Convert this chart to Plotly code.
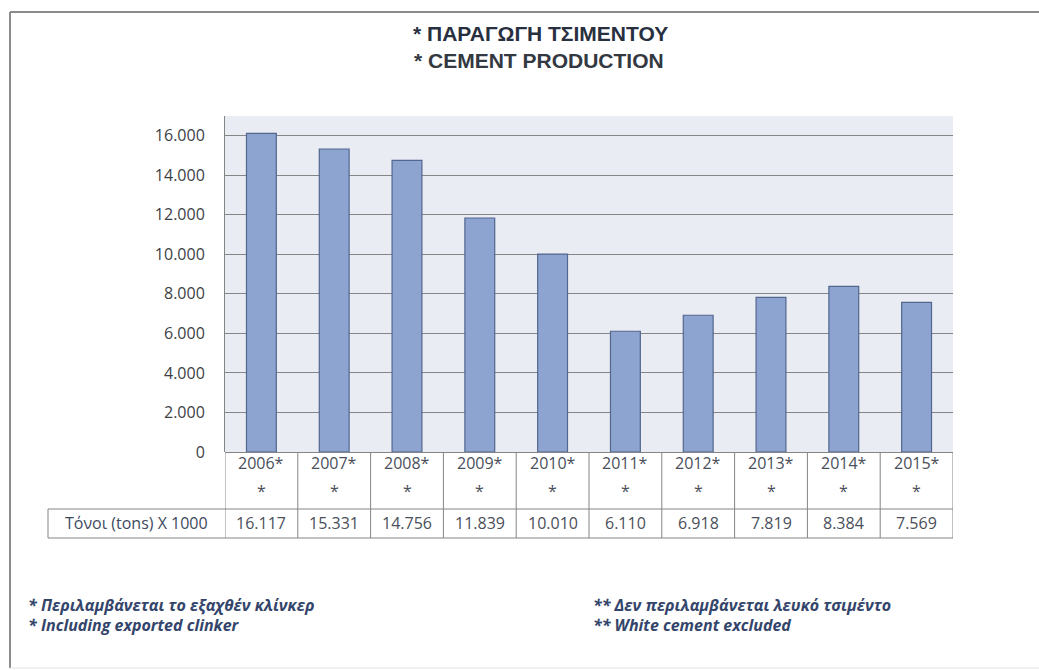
import plotly.graph_objects as go

# Cement production, thousand tons
years = ["2006", "2007", "2008", "2009", "2010", "2011", "2012", "2013", "2014", "2015"]
production = [16117, 15331, 14756, 11839, 10010, 6110, 6918, 7819, 8384, 7569]
row_label = "Τόνοι (tons) X 1000"
y_ticks = [0, 2000, 4000, 6000, 8000, 10000, 12000, 14000, 16000]

title_lines = ["* ΠΑΡΑΓΩΓΗ ΤΣΙΜΕΝΤΟΥ", "* CEMENT PRODUCTION"]
notes_left = ["* Περιλαμβάνεται το εξαχθέν κλίνκερ", "* Including exported clinker"]
notes_right = ["** Δεν περιλαμβάνεται λευκό τσιμέντο", "** White cement excluded"]

W, H = 1039, 670
L, R, T, B = 225, 953, 116, 452  # plot area in pixels


def px(x):
    return (x - L) / (R - L)


def py(y):
    return (B - y) / (B - T)


def fmt(v):
    return f"{v:,}".replace(",", ".")


FONT = "Open Sans"
GRID = "#858585"

fig = go.Figure(
    go.Bar(
        x=years,
        y=production,
        width=0.41,
        marker=dict(color="#8DA4D0", line=dict(color="#52668E", width=1.2)),
        hoverinfo="x+y",
    )
)

shapes = []
annotations = []

# outer frame
shapes.append(dict(type="line", xref="paper", yref="paper", x0=px(10), x1=px(W + 5),
                   y0=py(12), y1=py(12), line=dict(color="#8C8C8C", width=2)))
shapes.append(dict(type="line", xref="paper", yref="paper", x0=px(10), x1=px(10),
                   y0=py(12), y1=py(668), line=dict(color="#8C8C8C", width=2)))
shapes.append(dict(type="line", xref="paper", yref="paper", x0=px(10), x1=px(W + 5),
                   y0=py(668), y1=py(668), line=dict(color="#E2E2E2", width=1)))

# data table below the axis
row_mid, row_bot = 509, 538
n = len(years)
for i in range(n + 1):
    shapes.append(dict(type="line", xref="x", yref="paper", x0=i - 0.5, x1=i - 0.5,
                       y0=py(B), y1=py(row_bot), line=dict(color=GRID, width=1)))
for yy in (row_mid, row_bot):
    shapes.append(dict(type="line", xref="paper", yref="paper", x0=px(48), x1=1,
                       y0=py(yy), y1=py(yy), line=dict(color=GRID, width=1)))
shapes.append(dict(type="line", xref="paper", yref="paper", x0=px(48), x1=px(48),
                   y0=py(row_mid), y1=py(row_bot), line=dict(color=GRID, width=1)))

cell_font = dict(family=FONT, size=16, color="#4A4F5A")
for i, (yr, v) in enumerate(zip(years, production)):
    annotations.append(dict(x=i, xref="x", y=py(463), yref="paper", text=yr + "*",
                            showarrow=False, font=cell_font, xanchor="center", yanchor="middle"))
    annotations.append(dict(x=i, xref="x", y=py(491), yref="paper", text="*",
                            showarrow=False, font=cell_font, xanchor="center", yanchor="middle"))
    annotations.append(dict(x=i, xref="x", y=py(523), yref="paper", text=fmt(v),
                            showarrow=False, font=cell_font, xanchor="center", yanchor="middle"))
annotations.append(dict(x=px(136), xref="paper", y=py(523), yref="paper", text=row_label,
                        showarrow=False, font=dict(family=FONT, size=16, color="#3E4A60"),
                        xanchor="center", yanchor="middle"))

# title
title_font = dict(family="Liberation Sans", size=21, color="#283040")
annotations.append(dict(x=px(540), xref="paper", y=py(33), yref="paper", text="<b>" + title_lines[0] + "</b>",
                        showarrow=False, font=title_font, xanchor="center", yanchor="middle"))
annotations.append(dict(x=px(539), xref="paper", y=py(61), yref="paper", text="<b>" + title_lines[1] + "</b>",
                        showarrow=False, font=dict(title_font, color="#333841"),
                        xanchor="center", yanchor="middle"))

# footnotes
note_font = dict(family=FONT, size=16, color="#34456B")
for k, (a, b) in enumerate(zip(notes_left, notes_right)):
    yy = py(605 + 20 * k)
    annotations.append(dict(x=px(26), xref="paper", y=yy, yref="paper", text="<b><i>" + a + "</i></b>",
                            showarrow=False, font=note_font, xanchor="left", yanchor="middle"))
    annotations.append(dict(x=px(591), xref="paper", y=yy, yref="paper", text="<b><i>" + b + "</i></b>",
                            showarrow=False, font=note_font, xanchor="left", yanchor="middle"))

fig.update_layout(
    width=W,
    height=H,
    margin=dict(l=L, r=W - R, t=T, b=H - B, pad=0),
    paper_bgcolor="white",
    plot_bgcolor="#E9EDF3",
    separators=",.",
    showlegend=False,
    bargap=0.5,
    shapes=shapes,
    annotations=annotations,
    xaxis=dict(type="category", showticklabels=False, showgrid=False, showline=False, ticks="",
               range=[-0.5, n - 0.5], fixedrange=True),
    yaxis=dict(range=[0, 17000], tickvals=y_ticks, tickformat=",d",
               showgrid=True, gridcolor=GRID, gridwidth=1,
               zeroline=True, zerolinecolor=GRID, zerolinewidth=1,
               showline=True, linecolor=GRID, linewidth=1, ticks="",
               ticklabelstandoff=16,
               tickfont=dict(family=FONT, size=16, color="#3C3F46"), fixedrange=True),
)

fig.write_html("out.html")
